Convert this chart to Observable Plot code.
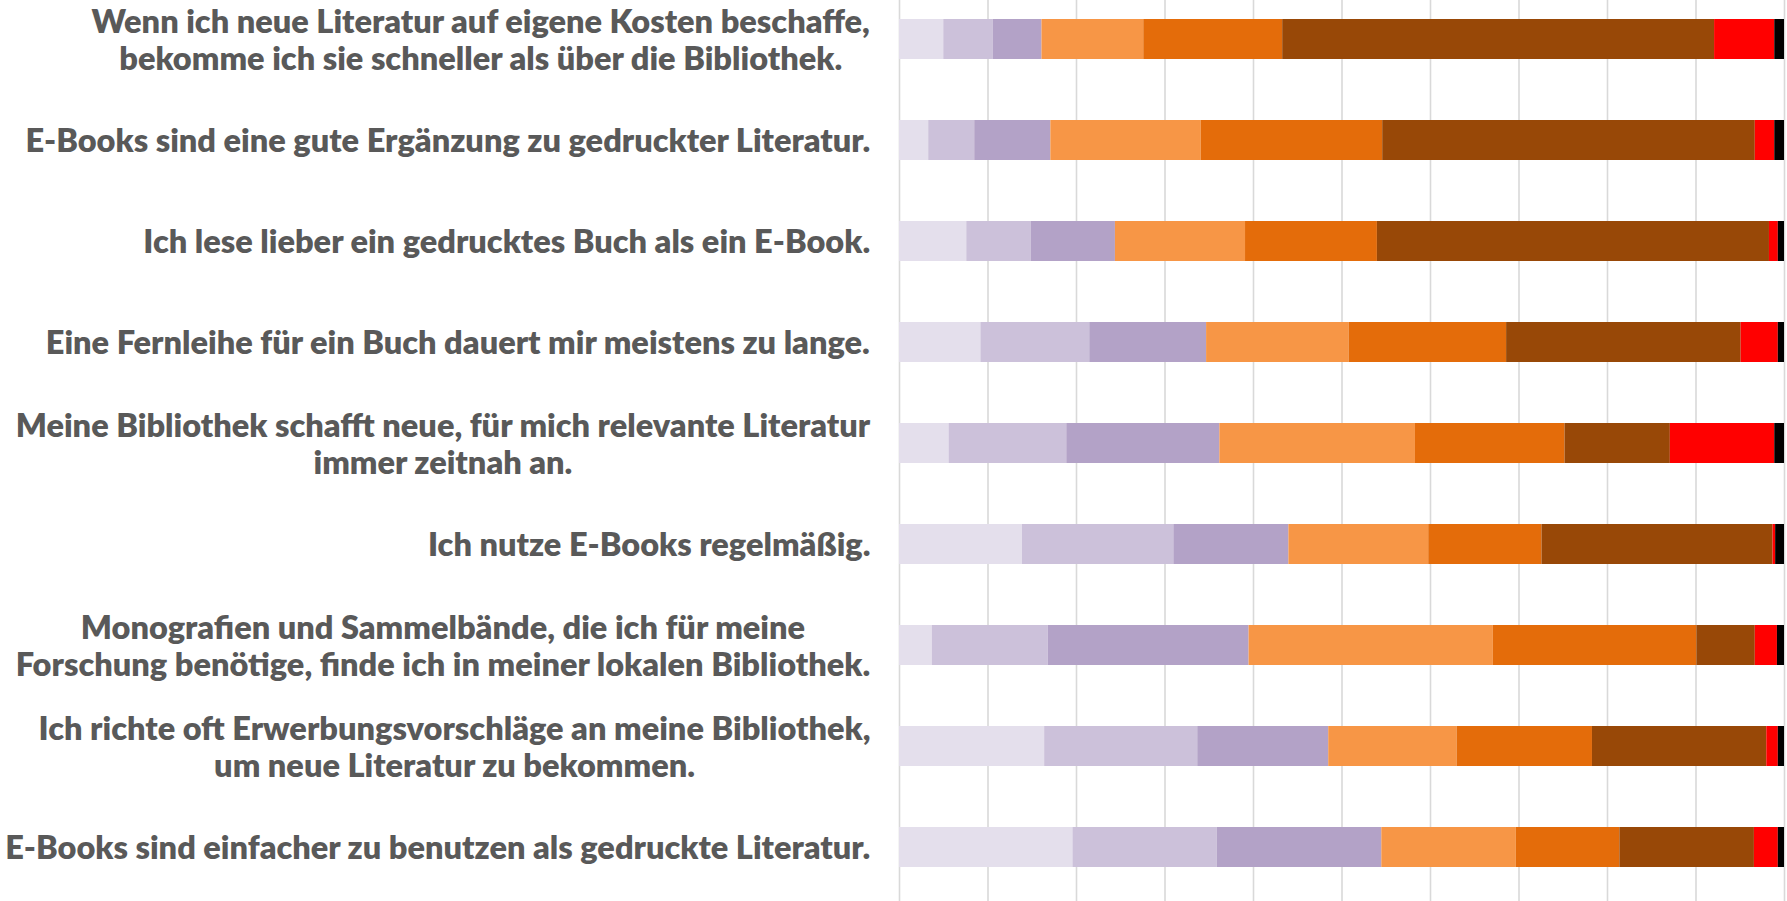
<!DOCTYPE html>
<html><head><meta charset="utf-8">
<script src="https://cdn.jsdelivr.net/npm/d3@7"></script>
<script src="https://cdn.jsdelivr.net/npm/@observablehq/plot@0.6"></script>
<style>html,body{margin:0;padding:0;background:#fff;overflow:hidden;}</style>
</head><body><div id="chart"></div>
<script>
const categories = [
  "Wenn ich neue Literatur auf eigene Kosten beschaffe,\nbekomme ich sie schneller als über die Bibliothek.",
  "E-Books sind eine gute Ergänzung zu gedruckter Literatur.",
  "Ich lese lieber ein gedrucktes Buch als ein E-Book.",
  "Eine Fernleihe für ein Buch dauert mir meistens zu lange.",
  "Meine Bibliothek schafft neue, für mich relevante Literatur\nimmer zeitnah an.",
  "Ich nutze E-Books regelmäßig.",
  "Monografien und Sammelbände, die ich für meine\nForschung benötige, finde ich in meiner lokalen Bibliothek.",
  "Ich richte oft Erwerbungsvorschläge an meine Bibliothek,\num neue Literatur zu bekommen.",
  "E-Books sind einfacher zu benutzen als gedruckte Literatur."
];
const levels = ["1", "2", "3", "4", "5", "6", "7", "8"];
const level1 = [5.0, 3.3, 7.6, 9.2, 5.6, 13.9, 3.7, 16.4, 19.6];
const level2 = [5.6, 5.2, 7.3, 12.3, 13.3, 17.1, 13.1, 17.3, 16.3];
const level3 = [5.5, 8.6, 9.5, 13.2, 17.3, 13.0, 22.7, 14.8, 18.6];
const level4 = [11.5, 17.0, 14.7, 16.1, 22.1, 15.8, 27.6, 14.5, 15.2];
const level5 = [15.7, 20.5, 14.9, 17.8, 16.9, 12.8, 23.0, 15.3, 11.7];
const level6 = [48.8, 42.1, 44.3, 26.5, 11.9, 26.1, 6.6, 19.7, 15.2];
const level7 = [6.8, 2.2, 1.0, 4.2, 11.8, 0.3, 2.5, 1.3, 2.7];
const level8 = [1.1, 1.1, 0.7, 0.7, 1.1, 1.0, 0.8, 0.7, 0.7];
const xTicks = [0, 10, 20, 30, 40, 50, 60, 70, 80, 90, 100];
const colors = ["#e4dfec", "#ccc1da", "#b3a2c7", "#f79646", "#e46c0a", "#984807", "#ff0000", "#000000"];

const series = [level1, level2, level3, level4, level5, level6, level7, level8];
const rows = [];
categories.forEach((c, i) => {
  levels.forEach((l, j) => rows.push({category: c, level: l, value: series[j][i]}));
});

const fontFamily = "Lato, 'Open Sans', sans-serif";
const fontWeight = 800;
const textColor = "#595959";
const ctx = document.createElement("canvas").getContext("2d");
function measure(s, fs) { ctx.font = `${fontWeight} ${fs}px ${fontFamily}`; return ctx.measureText(s).width; }
const longest = "E-Books sind einfacher zu benutzen als gedruckte Literatur.";
const fontSize = 28 * 866 / measure(longest, 28);
const lineGap = 37;
const gap = 29;

const labelMarks = categories.map(c => {
  const w = d3.max(c.split("\n"), s => measure(s, fontSize));
  return Plot.text([c], {
    x: 0, y: d => d, text: d => d,
    textAnchor: "middle", lineAnchor: "middle",
    dx: -(gap + w / 2),
    fontSize, fontWeight, fontFamily, fill: textColor,
    lineHeight: lineGap / fontSize
  });
});

const chart = Plot.plot({
  width: 1787, height: 901,
  marginLeft: 899, marginRight: 3, marginTop: 0, marginBottom: 0,
  style: {background: "#fff", fontFamily},
  x: {domain: [0, 100], axis: null},
  y: {domain: categories, range: [6.9, 878.9], paddingInner: 0.6, paddingOuter: 0.1, axis: null},
  color: {type: "ordinal", domain: levels, range: colors},
  marks: [
    Plot.gridX(xTicks, {stroke: "#d9d9d9", strokeOpacity: 1, strokeWidth: 1.6}),
    Plot.barX(rows, Plot.stackX({x: "value", y: "category", fill: "level", order: levels})),
    ...labelMarks
  ]
});
document.getElementById("chart").appendChild(chart);
</script>
</body></html>
